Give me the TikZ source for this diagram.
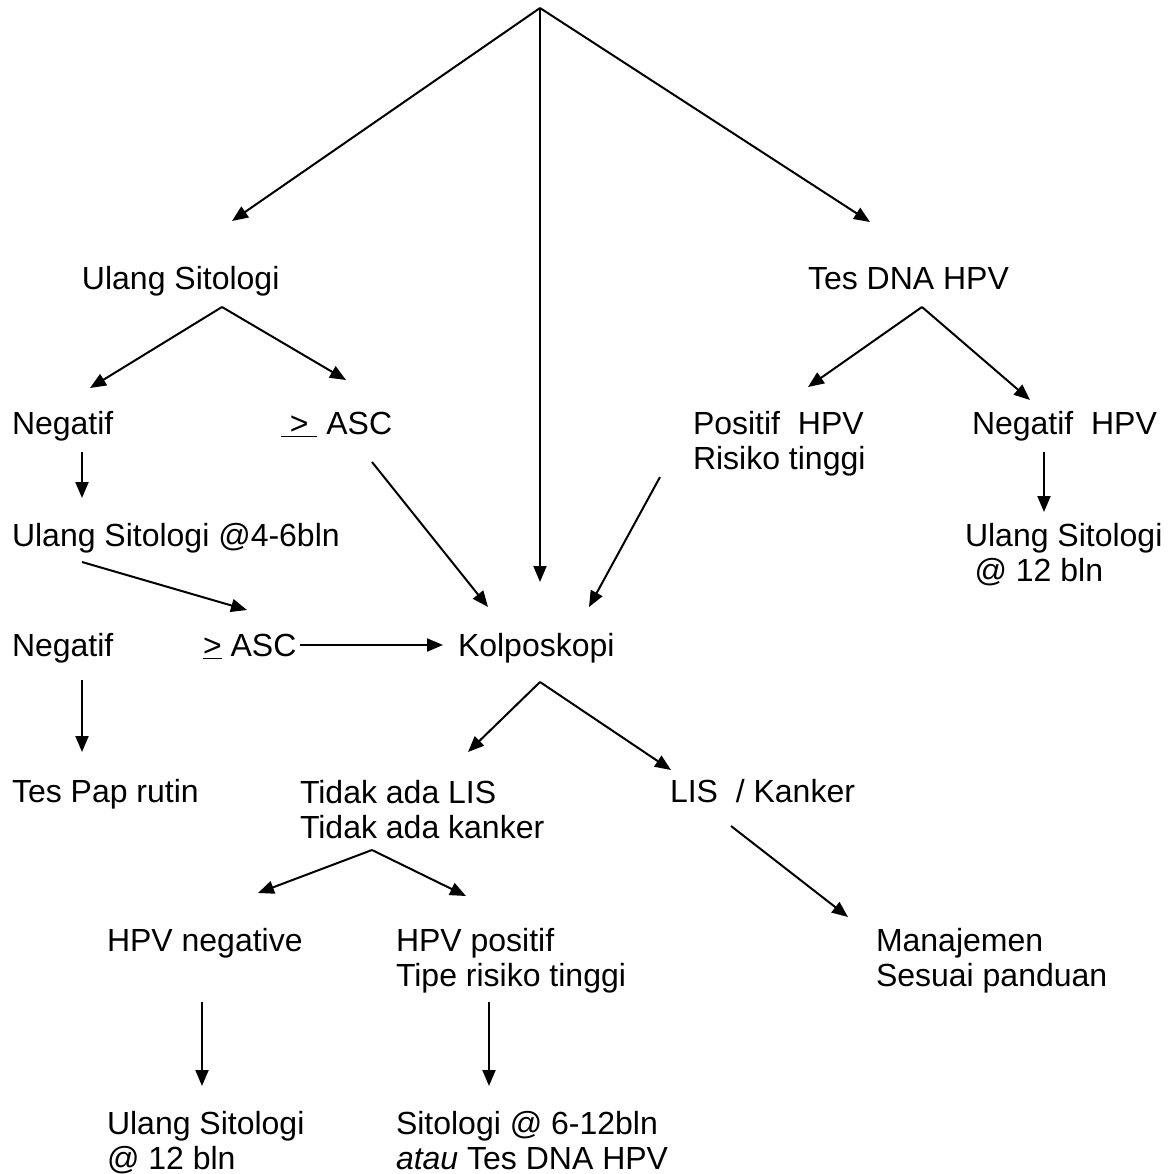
\documentclass[tikz,border=0pt]{standalone}
\usepackage{fontspec}
\setmainfont{Liberation Sans}
\usetikzlibrary{arrows.meta}
\begin{document}
\begin{tikzpicture}[x=0.5pt,y=-0.5pt,
  lbl/.style={anchor=base west,inner sep=0pt,outer sep=0pt,font=\fontsize{16}{17.5}\selectfont,align=left},
  arr/.style={line width=1pt,-{Triangle[length=8pt,width=6.5pt]}},
  ln/.style={line width=1pt}]
\useasboundingbox (0,0) rectangle (1169,1174);
% labels (multi-line nodes: base = baseline of the last line)
\node[lbl] (us1) at (82,289) {Ulang Sitologi};
\node[lbl] (tes) at (808,289) {Tes DNA HPV};
\node[lbl] (neg1) at (12,434) {Negatif};
\node[lbl] (asc1) at (281,434) {\underline{\ >\ }\ ASC};
\node[lbl] (pos) at (693,469) {Positif\ \ HPV\\Risiko tinggi};
\node[lbl] (negh) at (972,434) {Negatif\ \ HPV};
\node[lbl] (us2) at (12,546) {Ulang Sitologi @4-6bln};
\node[lbl] (us3) at (965,581) {Ulang Sitologi\\\hspace*{0.3em}@ 12 bln};
\node[lbl] (neg2) at (12,656) {Negatif};
\node[lbl] (asc2) at (203,656) {\underline{>} ASC};
\node[lbl] (kol) at (458,656) {Kolposkopi};
\node[lbl] (pap) at (12,802) {Tes Pap rutin};
\node[lbl] (tid) at (300,838) {Tidak ada LIS\\Tidak ada kanker};
\node[lbl] (lis) at (670,802) {LIS\ \ / Kanker};
\node[lbl] (hneg) at (107,951) {HPV negative};
\node[lbl] (hpos) at (396,986) {HPV positif\\Tipe risiko tinggi};
\node[lbl] (man) at (876,986) {Manajemen\\Sesuai panduan};
\node[lbl] (us4) at (107,1169) {Ulang Sitologi\\@ 12 bln};
\node[lbl] (sit) at (396,1169) {Sitologi @ 6-12bln\\\textit{atau} Tes DNA HPV};
% connector points
\coordinate (top) at (540,8);
\coordinate (t1) at (232,221);
\coordinate (t2) at (540,582);
\coordinate (t3) at (870,222);
\coordinate (a1) at (222,307);
\coordinate (a1l) at (90,388);
\coordinate (a1r) at (346,380);
\coordinate (n1a) at (82,452);
\coordinate (n1b) at (82,498);
\coordinate (u2a) at (82,562);
\coordinate (u2b) at (247,610);
\coordinate (c1a) at (372,462);
\coordinate (c1b) at (488,607);
\coordinate (c2a) at (300,645);
\coordinate (c2b) at (443,645);
\coordinate (c3a) at (660,477);
\coordinate (c3b) at (589,607);
\coordinate (b1) at (922,307);
\coordinate (b1l) at (808,387);
\coordinate (b1r) at (1030,400);
\coordinate (nh1) at (1044,452);
\coordinate (nh2) at (1044,512);
\coordinate (n2a) at (82,680);
\coordinate (n2b) at (82,752);
\coordinate (k1) at (540,682);
\coordinate (k1l) at (468,752);
\coordinate (k1r) at (671,770);
\coordinate (l1) at (731,826);
\coordinate (l2) at (848,917);
\coordinate (d1) at (372,850);
\coordinate (d1l) at (258,893);
\coordinate (d1r) at (466,896);
\coordinate (e1) at (202,1002);
\coordinate (e2) at (202,1086);
\coordinate (f1) at (489,1002);
\coordinate (f2) at (489,1086);
% connectors
\draw[arr] (top) -- (t1);
\draw[arr] (top) -- (t2);
\draw[arr] (top) -- (t3);
\draw[arr] (a1) -- (a1l);
\draw[arr] (a1) -- (a1r);
\draw[arr] (n1a) -- (n1b);
\draw[arr] (u2a) -- (u2b);
\draw[arr] (c1a) -- (c1b);
\draw[arr] (c2a) -- (c2b);
\draw[arr] (c3a) -- (c3b);
\draw[arr] (b1) -- (b1l);
\draw[arr] (b1) -- (b1r);
\draw[arr] (nh1) -- (nh2);
\draw[arr] (n2a) -- (n2b);
\draw[arr] (k1) -- (k1l);
\draw[arr] (k1) -- (k1r);
\draw[arr] (l1) -- (l2);
\draw[arr] (d1) -- (d1l);
\draw[arr] (d1) -- (d1r);
\draw[arr] (e1) -- (e2);
\draw[arr] (f1) -- (f2);
\end{tikzpicture}
\end{document}
